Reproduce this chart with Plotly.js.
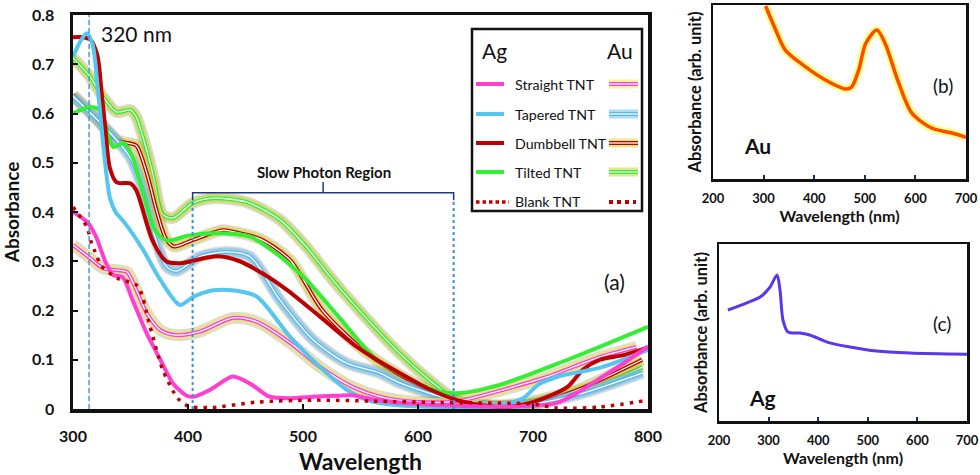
<!DOCTYPE html>
<html>
<head>
<meta charset="utf-8">
<script src="https://cdn.plot.ly/plotly-3.0.1.min.js"></script>
<style>html,body{margin:0;padding:0;background:#fff}#chart{width:980px;height:475px}</style>
</head>
<body>
<div id="chart"></div>
<script>
// ---------- DATA ----------
// Panel (a) – Ag-decorated TNTs (single solid lines)
const agStraightX = [300, 313, 320, 328, 335, 343, 352, 364, 376, 387, 399, 405, 420, 439, 455, 471, 490, 509, 530, 543, 560, 600, 640, 680, 720, 740, 760, 780, 800];
const agStraightY = [0.40, 0.378, 0.35, 0.30, 0.272, 0.268, 0.22, 0.154, 0.10, 0.052, 0.027, 0.025, 0.04, 0.066, 0.05, 0.025, 0.022, 0.025, 0.027, 0.028, 0.02, 0.01, 0.006, 0.005, 0.012, 0.035, 0.065, 0.095, 0.127];

const agTaperedX = [300, 306, 312, 317, 322, 327, 332, 337, 345, 361, 376, 393, 404, 422, 442, 460, 489, 515, 538, 556, 580, 620, 660, 690, 705, 720, 760, 800];
const agTaperedY = [0.715, 0.745, 0.763, 0.74, 0.64, 0.52, 0.43, 0.40, 0.378, 0.323, 0.262, 0.211, 0.227, 0.241, 0.24, 0.228, 0.146, 0.085, 0.039, 0.018, 0.008, 0.004, 0.003, 0.02, 0.05, 0.065, 0.085, 0.12];

const agDumbbellX = [300, 309, 315, 321, 325, 328, 332, 338, 350, 355, 369, 381, 393, 425, 445, 465, 486, 515, 547, 564, 584, 610, 634, 660, 680, 700, 730, 743, 758, 780, 800];
const agDumbbellY = [0.755, 0.755, 0.75, 0.72, 0.64, 0.573, 0.49, 0.46, 0.458, 0.444, 0.343, 0.30, 0.296, 0.31, 0.30, 0.275, 0.242, 0.187, 0.126, 0.10, 0.073, 0.04, 0.018, 0.006, 0.005, 0.014, 0.045, 0.079, 0.10, 0.11, 0.125];

const agTiltedX = [300, 315, 323, 335, 344, 352, 362, 372, 382, 400, 425, 454, 480, 503, 530, 564, 590, 613, 634, 671, 730, 800];
const agTiltedY = [0.60, 0.613, 0.607, 0.532, 0.54, 0.51, 0.43, 0.36, 0.342, 0.352, 0.357, 0.35, 0.31, 0.262, 0.19, 0.10, 0.065, 0.039, 0.032, 0.049, 0.10, 0.167];

const blankX = [300, 312, 316, 319, 325, 339, 356, 367, 378, 391, 400, 420, 460, 509, 560, 620, 700, 721, 758, 800];
const blankY = [0.41, 0.37, 0.337, 0.32, 0.29, 0.265, 0.25, 0.167, 0.08, 0.022, 0.006, 0.003, 0.014, 0.018, 0.016, 0.013, 0.01, 0.002, 0.004, 0.018];

// Panel (a) – Au-decorated TNTs (double lines with glow)
const auStraightX = [300, 315, 326, 338, 347, 355, 364, 376, 390, 410, 439, 460, 489, 515, 543, 567, 600, 634, 683, 712, 756, 790];
const auStraightY = [0.333, 0.306, 0.286, 0.282, 0.278, 0.242, 0.195, 0.16, 0.15, 0.157, 0.185, 0.177, 0.134, 0.085, 0.045, 0.025, 0.014, 0.016, 0.045, 0.065, 0.104, 0.126];

const auTaperedX = [300, 320, 338, 350, 361, 370, 381, 390, 410, 434, 454, 480, 509, 538, 567, 584, 630, 660, 700, 740, 795];
const auTaperedY = [0.635, 0.59, 0.546, 0.51, 0.444, 0.36, 0.29, 0.28, 0.309, 0.319, 0.309, 0.221, 0.14, 0.093, 0.073, 0.053, 0.018, 0.006, 0.01, 0.03, 0.073];

const auDumbbellX = [300, 320, 338, 348, 355, 364, 373, 381, 388, 404, 430, 439, 463, 489, 517, 556, 593, 630, 660, 700, 740, 795];
const auDumbbellY = [0.638, 0.59, 0.546, 0.54, 0.535, 0.48, 0.40, 0.345, 0.33, 0.343, 0.363, 0.36, 0.345, 0.302, 0.20, 0.113, 0.058, 0.018, 0.006, 0.01, 0.04, 0.10];

const auTiltedX = [300, 315, 326, 338, 350, 355, 364, 370, 378, 387, 404, 422, 451, 480, 503, 521, 541, 584, 613, 634, 660, 690, 730, 760, 795];
const auTiltedY = [0.713, 0.674, 0.634, 0.603, 0.607, 0.593, 0.526, 0.471, 0.395, 0.388, 0.418, 0.428, 0.42, 0.384, 0.329, 0.276, 0.221, 0.113, 0.053, 0.018, 0.008, 0.012, 0.032, 0.05, 0.085];

// Panel (b) – Au nanoparticles
const auNpX = [304, 324, 343, 383, 422, 462, 474, 488, 502, 524, 540, 567, 593, 632, 672, 700];
const auNpY = [0.994, 0.856, 0.741, 0.644, 0.569, 0.517, 0.529, 0.626, 0.78, 0.856, 0.78, 0.552, 0.379, 0.293, 0.264, 0.24];

// Panel (c) – Ag nanoparticles
const agNpX = [218, 256, 283, 303, 317, 323, 329, 339, 363, 383, 418, 464, 518, 585, 700];
const agNpY = [0.627, 0.667, 0.70, 0.757, 0.825, 0.74, 0.57, 0.503, 0.497, 0.486, 0.446, 0.418, 0.395, 0.384, 0.377];

// Reference lines / labels
const line320 = 314;
const slowRegion = [404, 631];
const slowRegionTop = 0.424;
const bracketY = 0.439;
const legendNames = ["Straight TNT", "Tapered TNT", "Dumbbell TNT", "Tilted TNT", "Blank TNT"];
const xTicksMain = [300, 400, 500, 600, 700, 800];
const yTicksMain = [0, 0.1, 0.2, 0.3, 0.4, 0.5, 0.6, 0.7, 0.8];
const xTicksInset = [200, 300, 400, 500, 600, 700];

// ---------- STYLE ----------
const F = 'Lato, "Open Sans", sans-serif';
const C = {
  straight: '#ff3fd0', tapered: '#55c6f0', dumbbell: '#c00000', tilted: '#33ee33', blank: '#c00000'
};
const GLOW = {
  straight: 'rgba(235,235,90,0.55)', tapered: 'rgba(110,190,245,0.55)',
  dumbbell: 'rgba(220,220,60,0.6)', tilted: 'rgba(205,215,60,0.6)'
};
const SPL = {shape: 'spline', smoothing: 0.8};
const bold = v => '<b>' + v + '</b>';

function ag(x, y, color, dash) {
  return {x, y, type: 'scatter', mode: 'lines', xaxis: 'x', yaxis: 'y', hoverinfo: 'skip', showlegend: false,
    line: Object.assign({color, width: dash ? 3.5 : 4, dash: dash || 'solid'}, SPL)};
}
function au(x, y, glow, core) {
  const base = {x, y, type: 'scatter', mode: 'lines', xaxis: 'x', yaxis: 'y', hoverinfo: 'skip', showlegend: false};
  return [
    Object.assign({}, base, {line: Object.assign({color: 'rgba(120,120,90,0.25)', width: 12}, SPL)}),
    Object.assign({}, base, {line: Object.assign({color: glow, width: 9}, SPL)}),
    Object.assign({}, base, {line: Object.assign({color: core, width: 4}, SPL)}),
    Object.assign({}, base, {line: Object.assign({color: '#ffffff', width: 1.3}, SPL)})
  ];
}

const traces = [].concat(
  au(auTiltedX, auTiltedY, GLOW.tilted, C.tilted),
  au(auDumbbellX, auDumbbellY, GLOW.dumbbell, C.dumbbell),
  au(auTaperedX, auTaperedY, GLOW.tapered, '#5ab8ee'),
  au(auStraightX, auStraightY, GLOW.straight, C.straight),
  [
    ag(agTiltedX, agTiltedY, C.tilted),
    ag(agDumbbellX, agDumbbellY, C.dumbbell),
    ag(agTaperedX, agTaperedY, C.tapered),
    ag(agStraightX, agStraightY, C.straight),
    ag(blankX, blankY, C.blank, '3.5px,6px')
  ],
  [
    {x: auNpX, y: auNpY, type: 'scatter', mode: 'lines', xaxis: 'x2', yaxis: 'y2', hoverinfo: 'skip', showlegend: false,
     cliponaxis: false, line: Object.assign({color: 'rgba(255,255,80,0.7)', width: 8}, SPL)},
    {x: auNpX, y: auNpY, type: 'scatter', mode: 'lines', xaxis: 'x2', yaxis: 'y2', hoverinfo: 'skip', showlegend: false,
     cliponaxis: false, line: Object.assign({color: '#ff4a00', width: 3.5}, SPL)},
    {x: agNpX, y: agNpY, type: 'scatter', mode: 'lines', xaxis: 'x3', yaxis: 'y3', hoverinfo: 'skip', showlegend: false,
     line: Object.assign({color: '#5a36ee', width: 3}, SPL)}
  ]
);

// ---------- LAYOUT ----------
const px = v => v / 980, py = v => 1 - v / 475;
const shapes = [
  {type: 'line', xref: 'x', yref: 'y', x0: line320, x1: line320, y0: 0, y1: 0.8, line: {color: '#3d9be0', width: 1.5, dash: '5px,3px'}},
  {type: 'line', xref: 'x', yref: 'y', x0: slowRegion[0], x1: slowRegion[0], y0: 0, y1: slowRegionTop, line: {color: '#3d8fe0', width: 2, dash: 'dot'}},
  {type: 'line', xref: 'x', yref: 'y', x0: slowRegion[1], x1: slowRegion[1], y0: 0, y1: slowRegionTop, line: {color: '#3d8fe0', width: 2, dash: 'dot'}},
  {type: 'path', xref: 'x', yref: 'y', line: {color: '#1f3a78', width: 1.5},
   path: `M ${slowRegion[0]},${slowRegionTop} L ${slowRegion[0]},${bracketY} L ${slowRegion[1]},${bracketY} L ${slowRegion[1]},${slowRegionTop}`},
  {type: 'line', xref: 'x', yref: 'y', x0: (slowRegion[0] + slowRegion[1]) / 2, x1: (slowRegion[0] + slowRegion[1]) / 2, y0: bracketY, y1: bracketY + 0.022, line: {color: '#1f3a78', width: 1.5}},
  {type: 'rect', xref: 'paper', yref: 'paper', x0: px(472), x1: px(642), y0: py(211), y1: py(29), line: {color: '#111', width: 2.5}, fillcolor: '#fff', layer: 'above'}
];
const annotations = [
  {xref: 'x', yref: 'y', x: 323, y: 0.763, xanchor: 'left', yanchor: 'middle', text: '320 nm', showarrow: false, font: {family: F, size: 21, color: '#111'}},
  {xref: 'x', yref: 'y', x: 518, y: 0.481, xanchor: 'center', yanchor: 'middle', text: '<b>Slow Photon Region</b>', showarrow: false, font: {family: F, size: 15, color: '#111'}},
  {xref: 'x', yref: 'y', x: 771, y: 0.258, xanchor: 'center', yanchor: 'middle', text: '(a)', showarrow: false, font: {family: F, size: 21, color: '#111'}},
  {xref: 'paper', yref: 'paper', x: px(494), y: py(50), xanchor: 'center', yanchor: 'middle', text: 'Ag', showarrow: false, font: {family: F, size: 21, color: '#111'}},
  {xref: 'paper', yref: 'paper', x: px(620), y: py(50), xanchor: 'center', yanchor: 'middle', text: 'Au', showarrow: false, font: {family: F, size: 21, color: '#111'}},
  {xref: 'paper', yref: 'paper', x: px(943), y: py(85), xanchor: 'center', yanchor: 'middle', text: '(b)', showarrow: false, font: {family: F, size: 19, color: '#111'}},
  {xref: 'paper', yref: 'paper', x: px(757), y: py(145), xanchor: 'center', yanchor: 'middle', text: '<b>Au</b>', showarrow: false, font: {family: F, size: 21, color: '#111'}},
  {xref: 'paper', yref: 'paper', x: px(942), y: py(323), xanchor: 'center', yanchor: 'middle', text: '(c)', showarrow: false, font: {family: F, size: 19, color: '#111'}},
  {xref: 'paper', yref: 'paper', x: px(762), y: py(397), xanchor: 'center', yanchor: 'middle', text: '<b>Ag</b>', showarrow: false, font: {family: F, size: 21, color: '#111'}}
];
const rowY = [84, 114, 143, 172, 202];
const agCols = [C.straight, C.tapered, C.dumbbell, C.tilted];
const auGlow = [GLOW.straight, GLOW.tapered, GLOW.dumbbell, GLOW.tilted];
const auCore = [C.straight, '#5ab8ee', C.dumbbell, C.tilted];
legendNames.forEach((name, i) => {
  const yy = py(rowY[i]);
  annotations.push({xref: 'paper', yref: 'paper', x: px(513), y: yy, xanchor: 'left', yanchor: 'middle', text: name, showarrow: false, font: {family: F, size: 14.2, color: '#111'}});
  if (i < 4) {
    shapes.push({type: 'line', xref: 'paper', yref: 'paper', x0: px(476), x1: px(504), y0: yy, y1: yy, line: {color: agCols[i], width: 4}, layer: 'above'});
    shapes.push({type: 'line', xref: 'paper', yref: 'paper', x0: px(609), x1: px(638), y0: yy, y1: yy, line: {color: auGlow[i], width: 9}, layer: 'above'});
    shapes.push({type: 'line', xref: 'paper', yref: 'paper', x0: px(609), x1: px(638), y0: yy, y1: yy, line: {color: auCore[i], width: 4}, layer: 'above'});
    shapes.push({type: 'line', xref: 'paper', yref: 'paper', x0: px(609), x1: px(638), y0: yy, y1: yy, line: {color: '#fff', width: 1.3}, layer: 'above'});
  } else {
    shapes.push({type: 'line', xref: 'paper', yref: 'paper', x0: px(476), x1: px(509), y0: yy, y1: yy, line: {color: C.blank, width: 3.5, dash: '3.5px,3px'}, layer: 'above'});
    shapes.push({type: 'line', xref: 'paper', yref: 'paper', x0: px(609), x1: px(636), y0: yy, y1: yy, line: {color: C.blank, width: 4, dash: '4px,4px'}, layer: 'above'});
  }
});

const mainAxisCommon = {showline: true, mirror: true, linecolor: '#111', linewidth: 3.5, showgrid: false, zeroline: false,
  ticks: 'inside', ticklen: 5, tickwidth: 2, tickcolor: '#111', tickfont: {family: F, size: 16, color: '#111', weight: 700}};
const insetX = {showline: true, mirror: true, linecolor: '#111', linewidth: 2.5, showgrid: false, zeroline: false, range: [200, 700],
  tickmode: 'array', tickvals: xTicksInset, ticktext: xTicksInset.map(bold), ticks: 'inside', ticklen: 4, tickwidth: 2, tickcolor: '#1a2a6a',
  tickfont: {family: F, size: 13, color: '#111'}, ticklabelstandoff: 6};
const insetY = {showline: true, mirror: true, linecolor: '#111', linewidth: 2.5, showgrid: false, zeroline: false, range: [0, 1],
  showticklabels: false, ticks: ''};

const layout = {
  width: 980, height: 475, margin: {l: 0, r: 0, t: 0, b: 0}, paper_bgcolor: '#fff', plot_bgcolor: '#fff', showlegend: false,
  xaxis: Object.assign({}, mainAxisCommon, {domain: [px(73), px(648)], range: [300, 800], tickmode: 'array', tickvals: xTicksMain,
    ticktext: xTicksMain.map(bold), ticklabelstandoff: 10, anchor: 'y',
    title: {text: '<b>Wavelength</b>', font: {family: F, size: 23, color: '#111'}, standoff: 12}}),
  yaxis: Object.assign({}, mainAxisCommon, {domain: [py(409), py(15)], range: [0, 0.8], tickmode: 'array', tickvals: yTicksMain,
    ticktext: yTicksMain.map(v => bold(String(v))), ticklabelstandoff: 12, anchor: 'x',
    title: {text: '<b>Absorbance</b>', font: {family: F, size: 19, color: '#111'}, standoff: 12}}),
  xaxis2: Object.assign({}, insetX, {domain: [px(713), px(966)], anchor: 'y2',
    title: {text: '<b>Wavelength (nm)</b>', font: {family: F, size: 16, color: '#111'}, standoff: 4}}),
  yaxis2: Object.assign({}, insetY, {domain: [py(179), py(5)], anchor: 'x2',
    title: {text: '<b>Absorbance (arb. unit)</b>', font: {family: F, size: 16.5, color: '#111'}, standoff: 5}}),
  xaxis3: Object.assign({}, insetX, {domain: [px(719), px(967)], anchor: 'y3',
    title: {text: '<b>Wavelength (nm)</b>', font: {family: F, size: 16, color: '#111'}, standoff: 2}}),
  yaxis3: Object.assign({}, insetY, {domain: [py(421), py(244)], anchor: 'x3',
    title: {text: '<b>Absorbance (arb. unit)</b>', font: {family: F, size: 16.5, color: '#111'}, standoff: 5}}),
  shapes, annotations
};

Plotly.newPlot('chart', traces, layout, {staticPlot: true, displayModeBar: false});
</script>
</body>
</html>
